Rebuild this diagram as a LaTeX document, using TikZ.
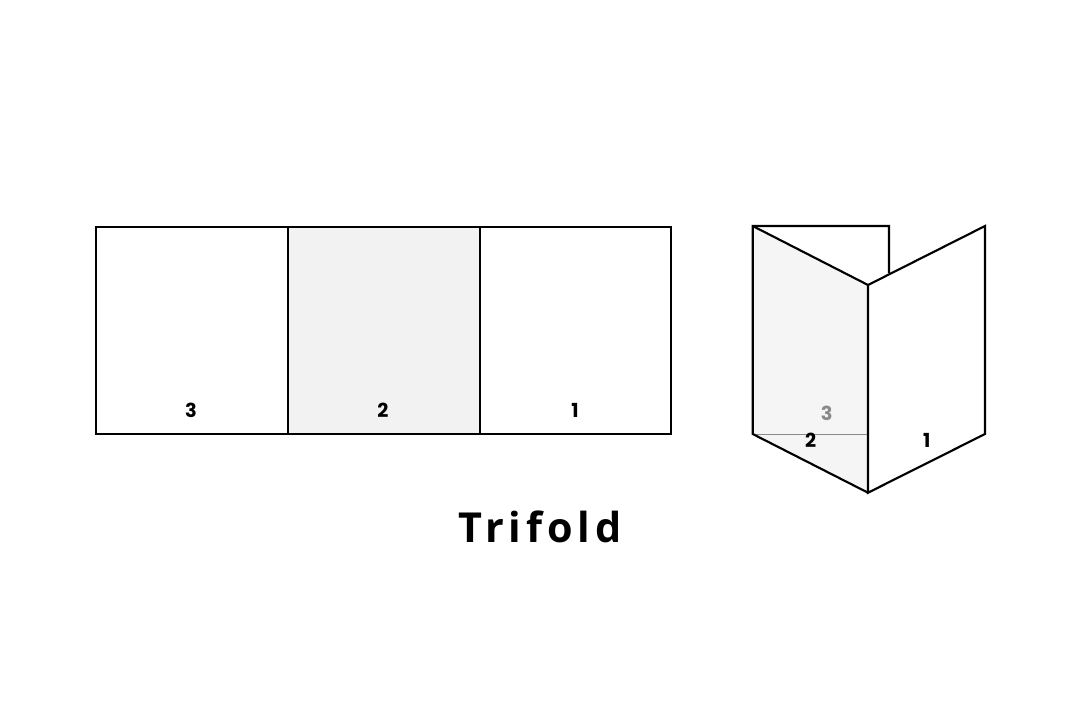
\documentclass[tikz,border=0pt]{standalone}
\usepackage{fontspec}
\setmainfont{Open Sans}
\newfontfamily\panelfont{Poppins}
\newfontfamily\titlefont[LetterSpace=12]{Open Sans}
\usepackage{tikz}
\usetikzlibrary{positioning}
\definecolor{panelgray}{HTML}{F2F2F2}
\definecolor{foldgray}{HTML}{F5F5F5}
\definecolor{backgray}{HTML}{8A8A8A}
\newcommand{\Pnum}[1]{{\panelfont\bfseries #1}}

\begin{document}
\begin{tikzpicture}[x=0.75pt,y=-0.75pt,
  edge/.style={line width=1.6pt,line join=miter},
  thinedge/.style={line width=0.7pt,draw=backgray},
  num/.style={inner sep=0pt,font=\fontsize{14.5}{14.5}\selectfont}]
\useasboundingbox (0,0) rectangle (1080,720);
% flat sheet
\fill[panelgray] (288,227) rectangle (480,434);
\draw[edge] (96,227) rectangle (671,434);
\draw[edge] (288,227) -- (288,434);
\draw[edge] (480,227) -- (480,434);
\node (f3) [num] at (191,410) {\Pnum{3}};
\node (f2) [num] at (383,410) {\Pnum{2}};
\node (f1) [num] at (575,410) {\Pnum{1}};
% folded sheet
\coordinate (bl) at (752.7,226);
\coordinate (br) at (889,226);
\coordinate (bm) at (889,273);
\coordinate (bb) at (752.7,434);
\coordinate (st) at (868,285);
\coordinate (sb) at (868,492.7);
\coordinate (rt) at (985,226);
\coordinate (rb) at (985,434);
\fill[foldgray] (bl) -- (st) -- (sb) -- (bb) -- cycle;
\draw[thinedge] (bb) -- (st |- bb);
\node (b3) [num,text=backgray] at (826.7,413) {\Pnum{3}};
\draw[edge] (bm) -- (br) -- (bl) -- (bb) -- (sb);
\draw[edge] (bl) -- (st);
\draw[edge,fill=white] (st) -- (rt) -- (rb) -- (sb) -- cycle;
\node (p2) [num] at (810.7,440) {\Pnum{2}};
\node (p1) [num] at (926.7,440) {\Pnum{1}};
%
\node (title) [inner sep=0pt,font=\fontsize{31}{31}\titlefont\bfseries] at (540,527) {Trifold};
\end{tikzpicture}
\end{document}
